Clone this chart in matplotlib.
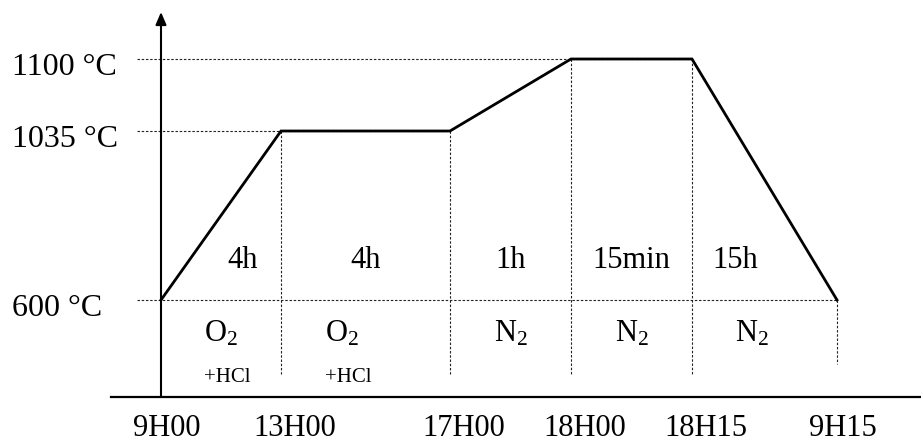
import numpy as np
import matplotlib.pyplot as plt

plt.rcParams['font.family'] = ['Liberation Serif', 'DejaVu Serif']
plt.rcParams['mathtext.fontset'] = 'custom'
plt.rcParams['mathtext.rm'] = 'Liberation Serif'
plt.rcParams['mathtext.it'] = 'Liberation Serif:italic'

# thermal cycle: elapsed hours and furnace temperature
hours = [0, 4, 8, 9, 9.25, 24.25]
temps = [600, 1035, 1035, 1100, 1100, 600]
time_labels = ['9H00', '13H00', '17H00', '18H00', '18H15', '9H15']
levels = [600, 1035, 1100]
level_labels = ['600 °C', '1035 °C', '1100 °C']
durations = ['4h', '4h', '1h', '15min', '15h']
gases = [r'O$_\mathrm{2}$', r'O$_\mathrm{2}$', r'N$_\mathrm{2}$', r'N$_\mathrm{2}$', r'N$_\mathrm{2}$']
additives = ['+HCl', '+HCl', '', '', '']

# schematic (non proportional) placement of the axes, in pixels
W, H = 921, 442
x_px = [161, 281, 450, 571, 692, 837]
y_px = [142, 311, 383]


def piecewise(xp, fp):
    xp = np.asarray(xp, float)
    fp = np.asarray(fp, float)

    def f(v):
        v = np.asarray(v, float)
        out = np.interp(v, xp, fp)
        lo = fp[0] + (v - xp[0]) * (fp[1] - fp[0]) / (xp[1] - xp[0])
        hi = fp[-1] + (v - xp[-1]) * (fp[-1] - fp[-2]) / (xp[-1] - xp[-2])
        return np.where(v < xp[0], lo, np.where(v > xp[-1], hi, out))
    return f


h_fwd, h_inv = piecewise(hours, x_px), piecewise(x_px, hours)
t_fwd, t_inv = piecewise(levels, y_px), piecewise(y_px, levels)

fig = plt.figure(figsize=(W / 100, H / 100), dpi=100)
ax = fig.add_axes([0, 0, 1, 1])
ax.set_xscale('function', functions=(h_fwd, h_inv))
ax.set_yscale('function', functions=(t_fwd, t_inv))
ax.set_xlim(float(h_inv(0)), float(h_inv(W)))
ax.set_ylim(float(t_inv(0)), float(t_inv(H)))
ax.axis('off')

dot = dict(color='#222222', lw=0.8, ls=(0, (2.2, 1.6)))

# axes
x_axis_t = float(t_inv(45))
ax.axhline(x_axis_t, xmin=111 / W, xmax=1, color='black', lw=1.6)
ax.annotate('', xy=(0, float(t_inv(H - 12))), xytext=(0, x_axis_t),
            arrowprops=dict(arrowstyle='-|>,head_length=0.75,head_width=0.32',
                            color='black', lw=1.5, shrinkA=0, shrinkB=0))

# guide lines
for lv in levels:
    end = max(h for h, t in zip(hours, temps) if t == lv)
    ax.plot([float(h_inv(137)), end], [lv, lv], **dot)
for i, (h, t) in enumerate(zip(hours, temps)):
    if i == 0:
        continue
    bottom = 78 if i == len(hours) - 1 else 68
    ax.plot([h, h], [t, float(t_inv(bottom))], **dot)

# temperature profile
ax.plot(hours, temps, color='black', lw=2, solid_joinstyle='miter')

xt = ax.get_xaxis_transform()
yt = ax.get_yaxis_transform()

for lv, lab in zip(levels, level_labels):
    ax.annotate(lab, xy=(12 / W, lv), xycoords=yt, xytext=(0, -16),
                textcoords='offset pixels', ha='left', va='baseline', fontsize=23)

for h, lab in zip(hours, time_labels):
    ax.annotate(lab, xy=(h, 6 / H), xycoords=xt, xytext=(-28, 0),
                textcoords='offset pixels', ha='left', va='baseline', fontsize=22)

dur_nudge = [22, 0, 0, 0, -29]
gas_nudge = [0, -24, 0, 0, -13]
add_nudge = [6, -17, 0, 0, 0]
for i in range(len(durations)):
    mid = float(h_inv((h_fwd(hours[i]) + h_fwd(hours[i + 1])) / 2))
    ax.annotate(durations[i], xy=(mid, 174 / H), xycoords=xt, xytext=(dur_nudge[i], 0),
                textcoords='offset pixels', ha='center', va='baseline', fontsize=22)
    ax.annotate(gases[i], xy=(mid, 101 / H), xycoords=xt, xytext=(gas_nudge[i], 0),
                textcoords='offset pixels', ha='center', va='baseline', fontsize=22)
    if additives[i]:
        ax.annotate(additives[i], xy=(mid, 60 / H), xycoords=xt, xytext=(add_nudge[i], 0),
                    textcoords='offset pixels', ha='center', va='baseline', fontsize=15)

fig.savefig('out.png', dpi=100)
